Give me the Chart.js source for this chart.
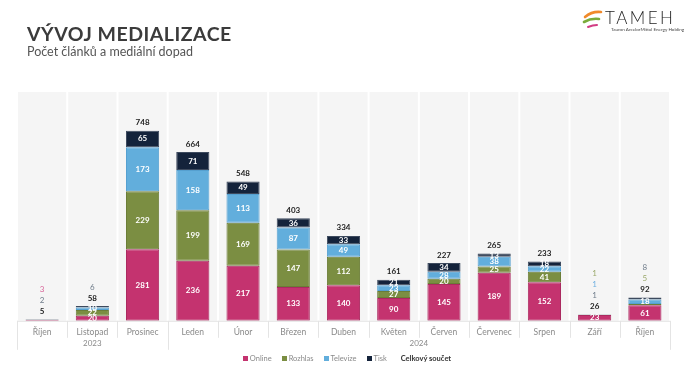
<!DOCTYPE html>
<html>
<head>
<meta charset="utf-8">
<script src="https://cdn.jsdelivr.net/npm/chart.js@4.4.0/dist/chart.umd.min.js"></script>
<style>
  body { margin: 0; background: #fff; font-family: Lato, sans-serif; }
  #wrap { position: relative; width: 700px; height: 375px; overflow: hidden; }
  #title { position: absolute; left: 27px; top: 22px; font: 700 19.5px Lato, sans-serif; color: #3b3b3b; letter-spacing: 0.5px; }
  #subtitle { position: absolute; left: 27px; top: 44px; font: 400 12.5px Lato, sans-serif; color: #555; }
  #logo { position: absolute; left: 582px; top: 6px; width: 110px; height: 30px; }
  #logo .name { position: absolute; left: 23px; top: 1px; font: 300 17px Lato, sans-serif; letter-spacing: 2.5px; color: #222; }
  #logo .sub { position: absolute; left: 29px; top: 20px; font: 400 4.6px Lato, sans-serif; color: #444; white-space: nowrap; }
  #legend { position: absolute; top: 354px; left: 0; width: 690px; text-align: center; font: 400 7.5px Lato, sans-serif; color: #8a8a8a; }
  #legend span { margin: 0 4px; }
  #legend i { display: inline-block; width: 5px; height: 5px; margin-right: 2px; vertical-align: 0px; }
  #legend b { color: #333; margin-left: 8px; font-weight: 700; }
  canvas { position: absolute; left: 0; top: 0; }
</style>
</head>
<body>
<div id="wrap">
  <canvas id="graf" width="700" height="375"></canvas>
  <div id="title">VÝVOJ MEDIALIZACE</div>
  <div id="subtitle">Počet článků a mediální dopad</div>
  <div id="logo">
    <svg width="22" height="24" style="position:absolute;left:0;top:2px">
      <path d="M3 9 Q10 3 19 4" stroke="#f08a2a" stroke-width="2.6" fill="none" stroke-linecap="round"/>
      <path d="M2 14 Q9 10 17 11" stroke="#7aab3a" stroke-width="2.6" fill="none" stroke-linecap="round"/>
      <path d="M6 19 Q11 17 15 17" stroke="#d23c83" stroke-width="2" fill="none" stroke-linecap="round"/>
    </svg>
    <div class="name">TAMEH</div>
    <div class="sub">Tauron ArcelorMittal Energy Holding</div>
  </div>
  <div id="legend">
    <span><i style="background:#c4336f"></i>Online</span>
    <span><i style="background:#7b8e42"></i>Rozhlas</span>
    <span><i style="background:#62aedc"></i>Televize</span>
    <span><i style="background:#14233b"></i>Tisk</span>
    <b>Celkový součet</b>
  </div>
</div>
<script>
// Vývoj medializace – počty článků podle typu média
const mesice = ["Říjen", "Listopad", "Prosinec", "Leden", "Únor", "Březen", "Duben", "Květen", "Červen", "Červenec", "Srpen", "Září", "Říjen"];
const roky = [
  { rok: "2023", od: 0, do: 2 },
  { rok: "2024", od: 3, do: 12 }
];
const online   = [3, 20, 281, 236, 217, 133, 140, 90, 145, 189, 152, 23, 61];
const rozhlas  = [0, 22, 229, 199, 169, 147, 112, 27, 20, 25, 41, 1, 5];
const televize = [0, 10, 173, 158, 113, 87, 49, 23, 28, 38, 22, 1, 18];
const tisk     = [2, 6, 65, 71, 49, 36, 33, 21, 34, 13, 18, 1, 8];

const barvy = ["#c4336f", "#7b8e42", "#62aedc", "#14233b"];
const okraje = ["#ab2a60", "#6b7d37", "#55a0d0", "#3d4a5e"];
const maleBarvy = ["#d9669a", "#9aa86a", "#6fb0e0", "#6f7c8a"];

const FONT = "Lato, sans-serif";

// pozadi sloupcu + oddelovace pod osou
const pozadi = {
  id: 'pozadi',
  beforeDatasetsDraw(chart) {
    const { ctx, chartArea: a } = chart;
    const w = (a.right - a.left) / mesice.length;
    ctx.save();
    ctx.fillStyle = '#f5f5f5';
    for (let i = 0; i < mesice.length; i++) {
      ctx.fillRect(a.left + i * w + 1, a.top, w - 2, a.bottom - a.top);
    }
    ctx.restore();
  },
  afterDraw(chart) {
    const { ctx, chartArea: a, scales: { x } } = chart;
    const w = (a.right - a.left) / mesice.length;
    ctx.save();
    ctx.strokeStyle = '#e4e4e4';
    ctx.lineWidth = 1;
    ctx.beginPath();
    ctx.moveTo(a.left, a.bottom + 0.5);
    ctx.lineTo(a.right, a.bottom + 0.5);
    for (let i = 0; i <= mesice.length; i++) {
      const px = Math.round(a.left + i * w) + 0.5;
      const dlouha = i === 0 || i === mesice.length || roky.some(r => r.od === i);
      ctx.moveTo(px, a.bottom);
      ctx.lineTo(px, a.bottom + (dlouha ? 29 : 17));
    }
    ctx.stroke();
    ctx.fillStyle = '#8a8a8a';
    ctx.font = '400 8px ' + FONT;
    ctx.textAlign = 'center';
    ctx.textBaseline = 'middle';
    roky.forEach(r => {
      const cx = (x.getPixelForValue(r.od) + x.getPixelForValue(r.do)) / 2;
      ctx.fillText(r.rok, cx, a.bottom + 23);
    });
    ctx.restore();
  }
};

// popisky hodnot
const popisky = {
  id: 'popisky',
  afterDatasetsDraw(chart) {
    const { ctx } = chart;
    const sady = chart.data.datasets;
    ctx.save();
    ctx.textAlign = 'center';
    ctx.textBaseline = 'middle';
    for (let i = 0; i < mesice.length; i++) {
      let vrch = Infinity, cx = 0, soucet = 0;
      const male = [];
      sady.forEach((s, d) => {
        const el = chart.getDatasetMeta(d).data[i];
        const v = s.data[i];
        soucet += v;
        cx = el.x;
        vrch = Math.min(vrch, el.y);
        if (!v) return;
        if (v >= 10) {
          ctx.font = '700 8px ' + FONT;
          ctx.fillStyle = '#fff';
          ctx.fillText(v, el.x, (el.y + el.base) / 2);
        } else {
          male.push({ v, d });
        }
      });
      ctx.font = '700 8px ' + FONT;
      ctx.fillStyle = '#222';
      let y = vrch - 8;
      ctx.fillText(soucet, cx, y);
      male.sort((p, q) => p.v - q.v || q.d - p.d).forEach(m => {
        y -= 11;
        ctx.font = '400 8px ' + FONT;
        ctx.fillStyle = maleBarvy[m.d];
        ctx.fillText(m.v, cx, y);
      });
    }
    ctx.restore();
  }
};

new Chart(document.getElementById('graf').getContext('2d'), {
  type: 'bar',
  data: {
    labels: mesice,
    datasets: [
      { label: 'Online', data: online },
      { label: 'Rozhlas', data: rozhlas },
      { label: 'Televize', data: televize },
      { label: 'Tisk', data: tisk }
    ].map((s, d) => Object.assign(s, {
      backgroundColor: barvy[d],
      borderColor: okraje[d],
      borderWidth: 1,
      borderSkipped: false,
      categoryPercentage: 1,
      barPercentage: 0.66
    }))
  },
  options: {
    responsive: false,
    animation: false,
    layout: { padding: { left: 17, right: 30, top: 92, bottom: 32 } },
    scales: {
      x: {
        stacked: true,
        grid: { display: false, drawTicks: false },
        border: { display: false },
        ticks: { color: '#8a8a8a', font: { family: FONT, size: 8.5 }, padding: 6, maxRotation: 0, autoSkip: false }
      },
      y: {
        stacked: true,
        display: false,
        min: 0,
        max: 900
      }
    },
    plugins: {
      legend: { display: false },
      tooltip: { enabled: false }
    }
  },
  plugins: [pozadi, popisky]
});
</script>
</body>
</html>
